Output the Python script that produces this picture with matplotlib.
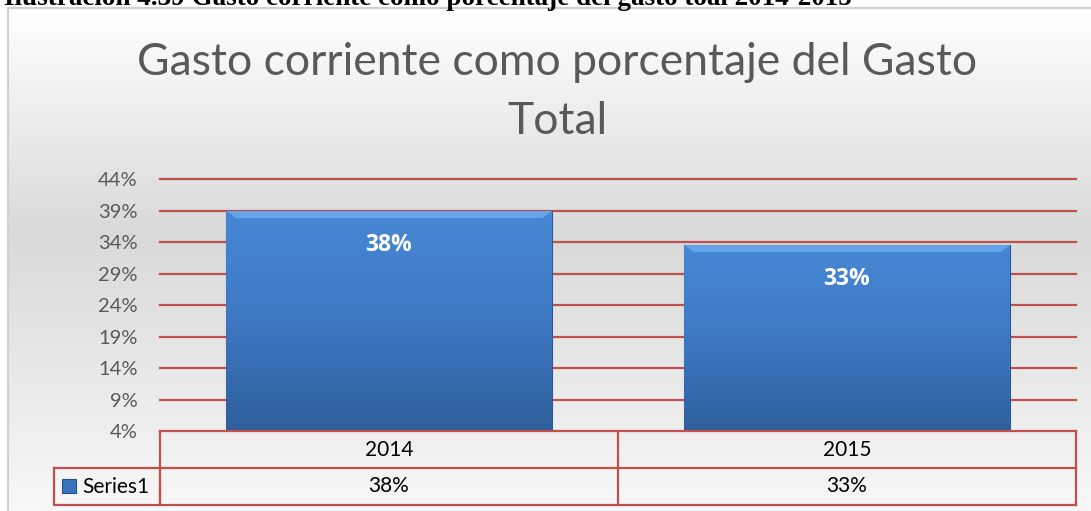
import numpy as np
import matplotlib
matplotlib.use("Agg")
import matplotlib.pyplot as plt
from matplotlib.patches import Rectangle, Polygon
from matplotlib.colors import LinearSegmentedColormap

# data
years = ["2014", "2015"]
gasto_pct = [0.384, 0.330]
value_labels = ["38%", "33%"]
tick_labels = ["4%", "9%", "14%", "19%", "24%", "29%", "34%", "39%", "44%"]
series_name = "Series1"
title = "Gasto corriente como porcentaje del Gasto\nTotal"
caption = "Ilustración 4.39 Gasto corriente como porcentaje del gasto toal 2014-2015"

W, H = 1091, 511
fig = plt.figure(figsize=(W / 100, H / 100), dpi=100)
fig.patch.set_facecolor("white")


def fx(px):
    return px / W


def fy(py):
    return 1 - py / H


RED = "#c0504d"

# chart area background (gradient)
bg = fig.add_axes([fx(8), 0, 1 - fx(8), fy(8)])
bg.set_axis_off()
grad_cmap = LinearSegmentedColormap.from_list(
    "bg", [(0, "#ffffff"), (0.45, "#d9d9d9"), (0.85, "#efefef"), (1, "#f7f7f7")])
bg.imshow(np.linspace(0, 1, 256).reshape(-1, 1), aspect="auto", cmap=grad_cmap,
          extent=[0, 1, 0, 1], origin="upper")
bg.set_xlim(0, 1)
bg.set_ylim(0, 1)
# frame
fig.add_artist(plt.Line2D([fx(8), fx(8)], [0, fy(8)], color="#cfcfcf", lw=1.5))
fig.add_artist(plt.Line2D([fx(8), 1], [fy(8), fy(8)], color="#cfcfcf", lw=1.5))

# caption, cut off at the top like in the source document
fig.text(fx(4), fy(-2), caption, family="Liberation Serif", weight="bold",
         fontsize=19.5, ha="left", va="center", color="black")

fig.text(fx(557), fy(92), title, ha="center", va="center", fontsize=32,
         family="Lato", color="#595959", linespacing=1.55)

# main plot
ax = fig.add_axes([fx(160), fy(431), fx(1076 - 160), (431 - 179) / H])
ax.set_facecolor("none")
ymin, ystep = 0.035, 0.05
ticks = [ymin + i * ystep for i in range(len(tick_labels))]
ax.set_yticks(ticks)
ax.set_yticklabels(tick_labels, family="Lato", fontsize=14.5, color="#595959")
ax.tick_params(axis="y", length=0, pad=16)
ax.set_xticks([])
for s in ax.spines.values():
    s.set_visible(False)
for t in ticks[1:]:
    ax.axhline(t, color=RED, lw=1.6, zorder=1, clip_on=False)

bar_cmap = LinearSegmentedColormap.from_list("bar", ["#4688d6", "#3e78c2", "#2f5f9b"])
bars = ax.bar(range(len(years)), gasto_pct, width=0.71, color="#3d7cc9",
              zorder=2, edgecolor="#2d5a92", lw=0.8)
for b, lab in zip(bars, value_labels):
    x0, w, h = b.get_x(), b.get_width(), b.get_height()
    im = ax.imshow(np.linspace(0, 1, 256).reshape(-1, 1), aspect="auto", cmap=bar_cmap,
                   extent=[x0, x0 + w, ymin, h], origin="upper", zorder=2.5)
    im.set_clip_path(b)
    # top bevel highlight
    dx, dy = 0.02, 0.011
    ax.add_patch(Polygon([(x0, h), (x0 + w, h), (x0 + w - dx, h - dy), (x0 + dx, h - dy)],
                         closed=True, color="#70aef0", alpha=0.75, lw=0, zorder=3))
    ax.text(x0 + w / 2, h - 0.054, lab, ha="center", va="center",
            color="white", weight="bold", fontsize=16.5, family="Open Sans", zorder=4)
ax.set_xlim(-0.5, len(years) - 0.5)
ax.set_ylim(ticks[0], ticks[-1])

# data table under the chart
tb = fig.add_axes([0, 0, 1, 1])
tb.set_axis_off()
tb.set_xlim(0, W)
tb.set_ylim(H, 0)
col_x = [160, 618, 1076]
row_y = [431, 468, 505]
lw_t = 1.6
for yy in row_y:
    tb.plot([col_x[0], col_x[-1]], [yy, yy], color=RED, lw=lw_t)
for xx in col_x:
    tb.plot([xx, xx], [row_y[0], row_y[-1]], color=RED, lw=lw_t)
# legend cell
tb.plot([54, 160, 160, 54, 54], [468, 468, 505, 505, 468], color=RED, lw=lw_t)
tb.add_patch(Rectangle((62, 479), 14, 14, facecolor="#3a72bb", edgecolor="#25508a", lw=0.8))
tb.text(82, 487, series_name, ha="left", va="center", fontsize=15, family="Lato")
for i, (yr, lab) in enumerate(zip(years, value_labels)):
    cx = (col_x[i] + col_x[i + 1]) / 2
    tb.text(cx, (row_y[0] + row_y[1]) / 2, yr, ha="center", va="center",
            fontsize=15, family="Lato")
    tb.text(cx, (row_y[1] + row_y[2]) / 2, lab, ha="center", va="center",
            fontsize=15, family="Lato")

fig.savefig("out.png", dpi=100)
